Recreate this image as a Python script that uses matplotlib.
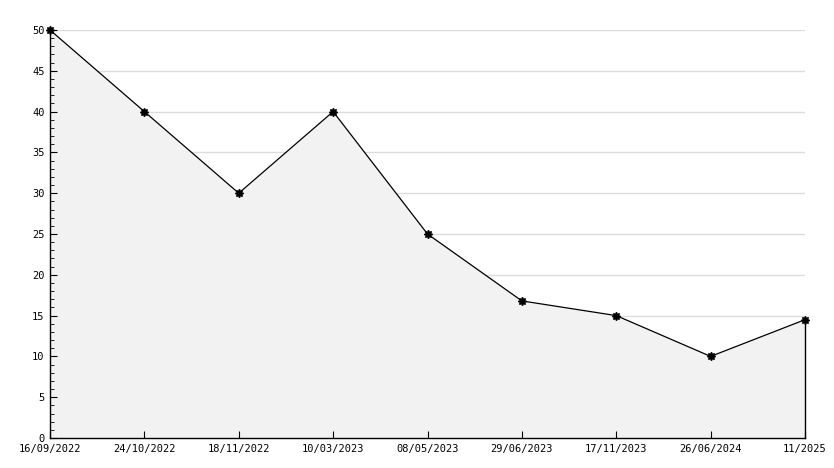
import matplotlib
matplotlib.use("Agg")
import matplotlib.pyplot as plt
from matplotlib.ticker import MultipleLocator

labels = ["16/09/2022", "24/10/2022", "18/11/2022", "10/03/2023", "08/05/2023",
          "29/06/2023", "17/11/2023", "26/06/2024", "11/2025"]
values = [50, 40, 30, 40, 25, 16.8, 15, 10, 14.5]

plt.rcParams['font.family'] = ['DejaVu Sans Mono']
fig = plt.figure(figsize=(8.34, 4.68), dpi=100)
ax = fig.add_axes([50/834, 30/468, 755/834, 408/468])
x = list(range(len(values)))
ax.fill_between(x, values, 0, color="#f2f2f2", linewidth=0)
ax.plot([x[-1], x[-1]], [0, values[-1]], color="black", linewidth=1, clip_on=False)
ax.plot(x, values, color="black", linewidth=0.9, marker=(8, 1, 0), markersize=6,
        clip_on=False, zorder=5)
ax.set_xlim(0, len(values) - 1)
ax.set_ylim(0, 50)
ax.yaxis.set_major_locator(MultipleLocator(5))
ax.yaxis.set_minor_locator(MultipleLocator(1))
for v in range(5, 55, 5):
    ax.axhline(v, color="#dcdcdc", linewidth=1, zorder=0)
ax.set_xticks(x)
ax.set_xticklabels(labels)
for s in ["top", "right"]:
    ax.spines[s].set_visible(False)
ax.spines["left"].set_linewidth(1)
ax.spines["bottom"].set_linewidth(1)
ax.tick_params(axis="both", which="both", direction="in", labelsize=7.5, colors="black")
ax.tick_params(axis="y", which="major", length=5, pad=4)
ax.tick_params(axis="y", which="minor", length=3)
ax.tick_params(axis="x", length=5, pad=4)
ax.patch.set_alpha(0)
fig.savefig("out.png", dpi=100)
